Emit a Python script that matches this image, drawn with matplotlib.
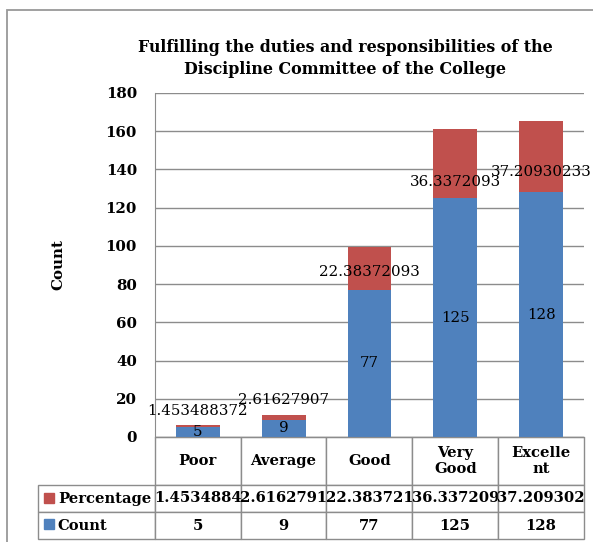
import matplotlib
matplotlib.use('Agg')
import matplotlib.pyplot as plt
from matplotlib.patches import Rectangle

############  DADOS  ############

categorias = ['Poor', 'Average', 'Good', 'Very Good', 'Excellent']
cabecalho = ['Poor', 'Average', 'Good', 'Very\nGood', 'Excelle\nnt']
contagem = [5, 9, 77, 125, 128]
percentual = [1.453488372, 2.61627907, 22.38372093, 36.3372093, 37.20930233]
# altura (em unidades do eixo) onde ficam os rotulos de percentual
pos_rotulo_pct = [13.5, 19.4, 86.5, 133.3, 138.5]

titulo = ['Fulfilling the duties and responsibilities of the',
          'Discipline Committee of the College']

azul = '#4F81BD'
vermelho = '#C0504D'
cinza = '#8C8C8C'

plt.rcParams['font.family'] = ['DejaVu Serif']

############  FIGURA  ############

fig = plt.figure(figsize=(5.93, 5.42), dpi=100)
ax = fig.add_axes([155 / 593, 105 / 542, 429 / 593, 344 / 542])

x = range(len(categorias))
ax.bar(x, contagem, width=0.51, color=azul, zorder=2)
ax.bar(x, percentual, width=0.51, bottom=contagem, color=vermelho, zorder=2)

for i in x:
    ax.text(i, contagem[i] / 2, str(contagem[i]), ha='center', va='center',
            fontsize=10.8, zorder=3)
    ax.text(i, pos_rotulo_pct[i], f'{percentual[i]:.10g}', ha='center',
            va='center', fontsize=10.8, zorder=3)

ax.set_xlim(-0.5, len(categorias) - 0.5)
ax.set_ylim(0, 180)
ax.set_yticks(range(0, 181, 20))
ax.set_xticks([])
ax.tick_params(axis='y', length=0, pad=13, labelsize=10.8)
for lb in ax.get_yticklabels():
    lb.set_fontweight('bold')
ax.grid(axis='y', color=cinza, linewidth=1, zorder=1)
for s in ['top', 'right']:
    ax.spines[s].set_visible(False)
ax.spines['left'].set_color(cinza)
ax.spines['bottom'].set_color(cinza)

ax.set_ylabel('Count', fontweight='bold', fontsize=10.8)
ax.yaxis.set_label_coords((65 - 155) / 429, 0.5)

# titulo em duas linhas
for linha, yl in zip(titulo, [47, 70]):
    fig.text(345 / 593, 1 - yl / 542, linha, ha='center', va='center',
             fontsize=11.4, fontweight='bold')

############  TABELA  ############

linhas = [['Percentage'] + [f'{v:.8g}' for v in percentual],
          ['Count'] + [str(v) for v in contagem]]

esq = (38 - 155) / 429
alt = (539 - 437) / 344
tab = ax.table(cellText=linhas, colLabels=[''] + cabecalho, cellLoc='center',
               colWidths=[117] + [86] * 5, bbox=[esq, -alt, 1 - esq, alt])
tab.auto_set_font_size(False)
alturas = {0: 48, 1: 27, 2: 27}
for (r, c), cel in tab.get_celld().items():
    cel.set_edgecolor(cinza)
    cel.set_linewidth(1)
    cel.set_height(alturas[r])
    cel.get_text().set_fontsize(10.6)
    cel.get_text().set_fontweight('bold')
    if c == 0:
        cel.get_text().set_ha('left')
        cel.PAD = 0.17
        if r == 0:
            cel.visible_edges = 'open'

# quadradinhos da legenda
for cor, yc in [(vermelho, 498), (azul, 524)]:
    fig.patches.append(Rectangle((44 / 593, 1 - (yc + 5) / 542), 10 / 593, 10 / 542,
                                 transform=fig.transFigure, color=cor))

# moldura externa
fig.patches.append(Rectangle((7 / 593, -0.02), 1.1, 1 - 10 / 542 + 0.02,
                             transform=fig.transFigure, fill=False,
                             edgecolor='#999999', linewidth=1.3))

fig.savefig('out.png', dpi=100)
